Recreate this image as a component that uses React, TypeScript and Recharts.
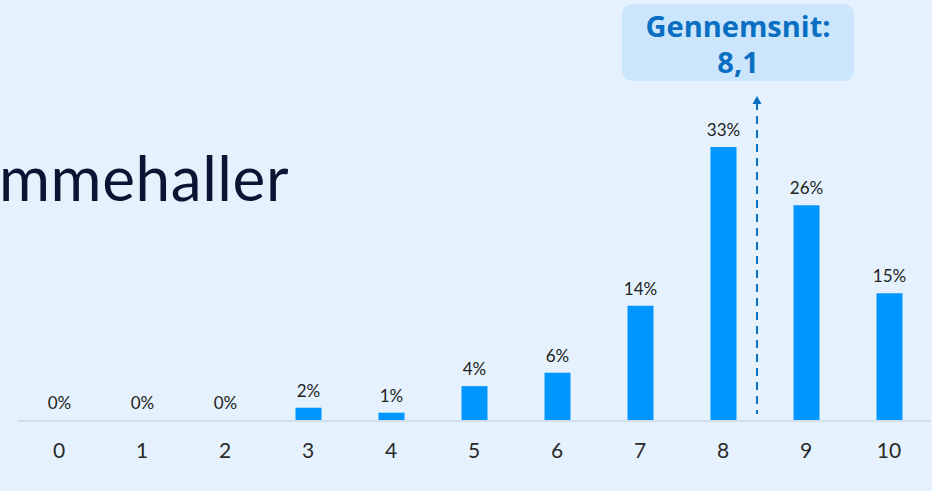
import React from 'react';
import { ComposedChart, Bar, XAxis, YAxis, LabelList, ReferenceLine, Cell } from 'recharts';

const categories = ['0', '1', '2', '3', '4', '5', '6', '7', '8', '9', '10'];
const shares = [0, 0, 0, 1.6, 1.0, 4.2, 5.8, 13.9, 33, 26, 15.4];
const shareLabels = ['0%', '0%', '0%', '2%', '1%', '4%', '6%', '14%', '33%', '26%', '15%'];
const averageLabel = ['Gennemsnit:', '8,1'];
const averageValue = 8.1;
const scaleDomain = [0, 10];
const titleText = 'mmehaller';

const data = categories.map((c, i) => ({ cat: c, value: shares[i], label: shareLabels[i] }));

const BG = '#E5F2FD';
const BAR = '#0096FF';
const DARKBLUE = '#0A6FC2';

const ArrowShape = (props: any) => {
  const { x1, y1, y2 } = props;
  const x = x1;
  const top = Math.min(y1, y2);
  const bottom = Math.max(y1, y2);
  const boxW = 232;
  const boxH = 77;
  const boxCx = x - 19;
  const boxTop = top - 92;
  return (
    <g>
      <rect x={boxCx - boxW / 2} y={boxTop} width={boxW} height={boxH} rx={10} ry={10} fill="#CBE6FC" />
      <text x={boxCx} y={boxTop + 33} textAnchor="middle" fontFamily="'Open Sans', sans-serif" fontWeight={700} fontSize={29} fill={DARKBLUE}>
        {averageLabel[0]}
      </text>
      <text x={boxCx} y={boxTop + 69} textAnchor="middle" fontFamily="'Open Sans', sans-serif" fontWeight={700} fontSize={29} fill={DARKBLUE}>
        {averageLabel[1]}
      </text>
      <line x1={x} x2={x} y1={top + 6} y2={bottom} stroke={DARKBLUE} strokeWidth={2} strokeDasharray="8 6" />
      <polygon points={`${x - 4.5},${top + 8} ${x + 4.5},${top + 8} ${x},${top}`} fill={DARKBLUE} />
    </g>
  );
};

export default function App() {
  return (
    <div style={{ position: 'absolute', left: 0, top: 0, width: 932, height: 491, background: BG, overflow: 'hidden' }}>
      <div
        style={{
          position: 'absolute',
          left: -1,
          top: 140,
          fontFamily: "Lato, sans-serif",
          fontSize: 62,
          lineHeight: '74px',
          color: '#0B1533',
          letterSpacing: 0.6,
        }}
      >
        {titleText}
      </div>
      <ComposedChart
        width={932}
        height={491}
        data={data}
        margin={{ top: 89, right: 1.5, left: 17.5, bottom: 40 }}
        style={{ position: 'absolute', left: 0, top: 0 }}
      >
        <XAxis
          dataKey="cat"
          tickLine={false}
          axisLine={{ stroke: '#D2DEE9', strokeWidth: 2 }}
          tick={{ fill: '#2A2A2A', fontSize: 21, fontFamily: 'Lato, sans-serif' }}
          tickMargin={16}
          height={30}
          interval={0}
        />
        <XAxis xAxisId="avg" type="number" domain={scaleDomain} allowDataOverflow hide />
        <YAxis domain={[0, 40]} hide />
        <Bar dataKey="value" fill={BAR} barSize={26} minPointSize={1} isAnimationActive={false}>
          {data.map((d, i) => (
            <Cell key={i} fill={d.value > 0 ? BAR : 'transparent'} />
          ))}
          <LabelList dataKey="label" position="top" offset={11} fill="#222" fontSize={17} fontFamily="Lato, sans-serif" />
        </Bar>
        <ReferenceLine
          xAxisId="avg"
          segment={[{ x: averageValue, y: 0.85 }, { x: averageValue, y: 39.15 }]}
          shape={ArrowShape}
          ifOverflow="visible"
        />
      </ComposedChart>
    </div>
  );
}
